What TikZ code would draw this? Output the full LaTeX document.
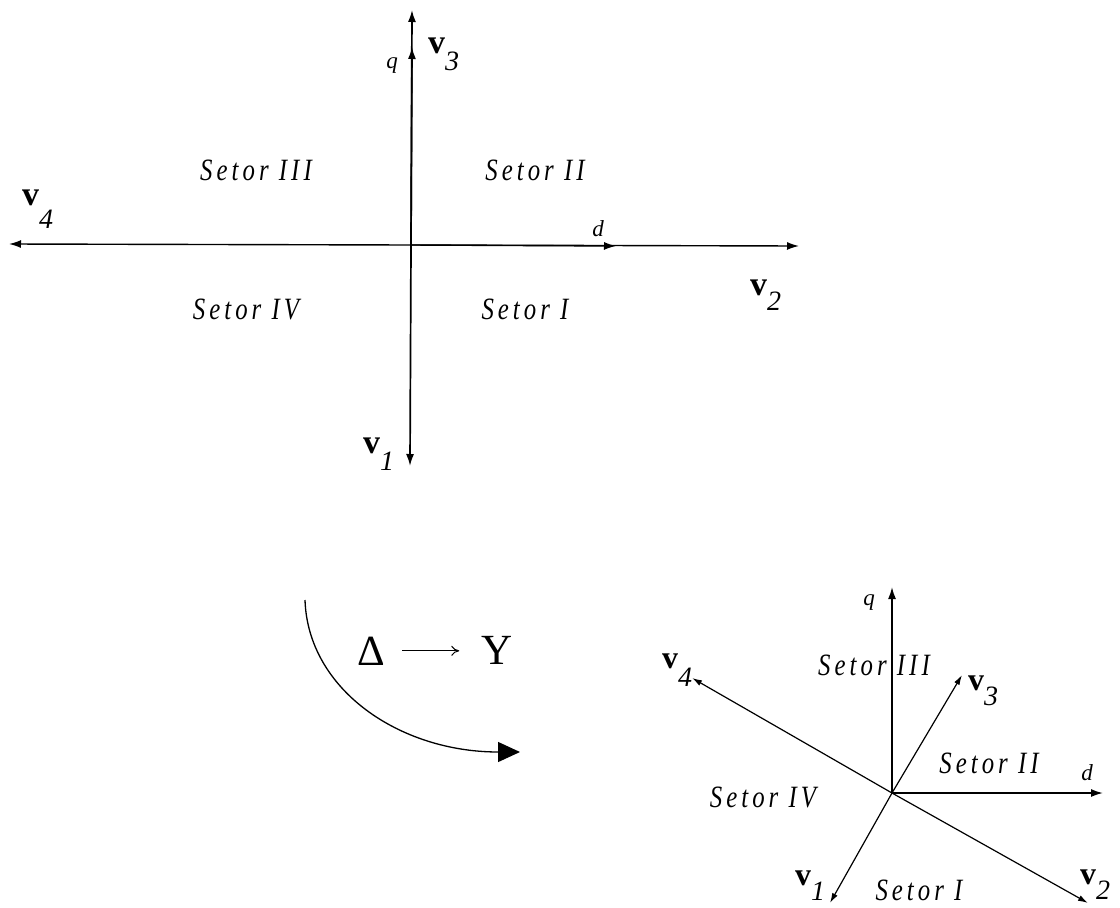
\documentclass[tikz,border=0pt]{standalone}
\usepackage{fontspec}
\setmainfont{Liberation Serif}
\newfontfamily\setorfont[FakeStretch=0.8,LetterSpace=13]{Liberation Serif}
\usetikzlibrary{arrows.meta}
\newcommand{\vlab}[3]{{\fontsize{#3}{#3}\selectfont\bfseries v}\raisebox{-#2}{\fontsize{28}{28}\selectfont\itshape #1}}
\begin{document}
\begin{tikzpicture}[x=1pt,y=-1pt,
  axis/.style={line width=1.7pt,-{Latex[length=12pt,width=8pt]}},
  vecarr/.style={line width=1.2pt,-{Latex[length=10pt,width=6pt]}},
  setor/.style={font=\setorfont\itshape\fontsize{31}{31}\selectfont,anchor=base,inner sep=0pt},
  axlab/.style={font=\itshape\fontsize{23}{23}\selectfont,inner sep=0pt},
  vl/.style={inner sep=0pt,anchor=base west},
  big/.style={font=\fontsize{43}{43}\selectfont,inner sep=0pt,anchor=base}
]
\useasboundingbox (0,0) rectangle (1120,908);

% ---------- top diagram ----------
\coordinate (O1) at (411,245);
\coordinate (T3) at (412,10);
\coordinate (Tq) at (412,47);
\coordinate (T1) at (410,466);
\coordinate (T4) at (9,244);
\coordinate (T2) at (799,246);
\coordinate (Td) at (616,246);
\draw[axis] (O1) -- (T3);
\draw[axis] (O1) -- (Tq);
\draw[axis] (O1) -- (T1);
\draw[axis,line width=1.4pt] (O1) -- (T4);
\draw[axis,line width=1.4pt] (O1) -- (T2);
\draw[axis,line width=1.4pt] (O1) -- (Td);

\node[axlab] (q1) at (392,66) {q};
\node[axlab] (d1) at (598,229) {d};
\node[vl] (v3a) at (428,53) {\vlab{3}{17pt}{34}};
\node[vl] (v4a) at (22,205) {\vlab{4}{23pt}{34}};
\node[vl] (v2a) at (750,295) {\vlab{2}{15pt}{34}};
\node[vl] (v1a) at (363,453) {\vlab{1}{17pt}{34}};

\node[setor] (s3a) at (256,180) {Setor III};
\node[setor] (s2a) at (535,180) {Setor II};
\node[setor] (s4a) at (246,319) {Setor IV};
\node[setor] (s1a) at (525,319) {Setor I};

% ---------- transformation ----------
\node[big] (delta) at (371,665) {Δ};
\node[big] (ystar) at (497,664) {Y};
\draw[line width=1pt,-{To[length=8pt,width=10pt]}] ([xshift=17pt]delta.east) -- ([xshift=-22pt]delta.east -| ystar.west);
\coordinate (C0) at (305,600);
\coordinate (C1) at (520,752);
\draw[line width=1.3pt,-{Triangle[length=22pt,width=20pt]}] (C0) .. controls (308,690) and (400,752) .. (C1);

% ---------- bottom diagram ----------
\coordinate (O2) at (892,793);
\coordinate (Bq) at (892,587);
\coordinate (Bd) at (1103,793);
\coordinate (B3) at (962,675);
\coordinate (B4) at (692,678);
\coordinate (B2) at (1088,903);
\coordinate (B1) at (830,903);
\draw[axis] (O2) -- (Bq);
\draw[axis] (O2) -- (Bd);
\draw[vecarr] (O2) -- (B3);
\draw[vecarr] (O2) -- (B4);
\draw[vecarr] (O2) -- (B2);
\draw[vecarr] (O2) -- (B1);

\node[axlab] (q2) at (869,603) {q};
\node[axlab] (d2) at (1087,773) {d};
\node[vl] (v3b) at (968,690) {\vlab{3}{15pt}{32}};
\node[vl] (v4b) at (662,668) {\vlab{4}{18pt}{32}};
\node[vl] (v2b) at (1080,884) {\vlab{2}{15pt}{32}};
\node[vl] (v1b) at (795,885) {\vlab{1}{15pt}{32}};

\node[setor] (s3b) at (874,675) {Setor III};
\node[setor] (s2b) at (989,773) {Setor II};
\node[setor] (s4b) at (763,807) {Setor IV};
\node[setor] (s1b) at (919,900) {Setor I};
\end{tikzpicture}
\end{document}
